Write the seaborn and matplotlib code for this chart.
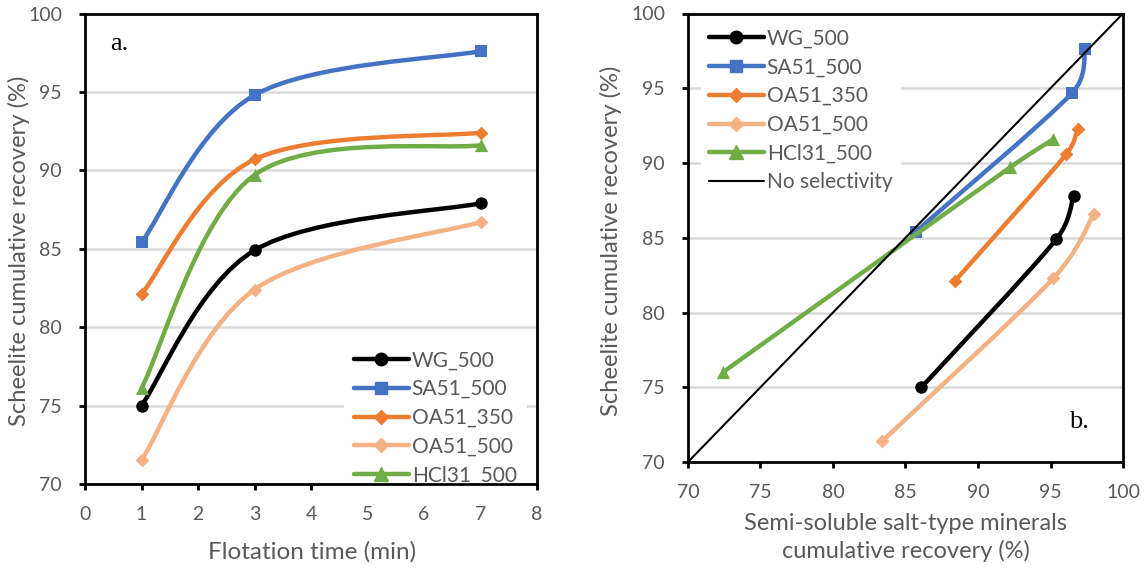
import numpy as np
import pandas as pd
import matplotlib
matplotlib.use("Agg")
import matplotlib.pyplot as plt
import seaborn as sns
from matplotlib.path import Path
from matplotlib.patches import PathPatch
from matplotlib.lines import Line2D

# ---------------- data ----------------
series_names = ["WG_500", "SA51_500", "OA51_350", "OA51_500", "HCl31_500"]
flotation_time = [1, 3, 7]
scheelite_recovery = {
    "WG_500":    [75.0, 84.9, 87.9],
    "SA51_500":  [85.4, 94.8, 97.6],
    "OA51_350":  [82.1, 90.7, 92.4],
    "OA51_500":  [71.5, 82.4, 86.7],
    "HCl31_500": [76.1, 89.7, 91.6],
}
# panel b: (semi-soluble salt-type recovery, scheelite recovery)
salt_recovery_b = {
    "WG_500":    [86.1, 95.4, 96.6],
    "SA51_500":  [85.7, 96.5, 97.4],
    "OA51_350":  [88.4, 96.1, 96.9],
    "OA51_500":  [83.4, 95.2, 98.0],
    "HCl31_500": [72.4, 92.2, 95.2],
}
scheelite_recovery_b = {
    "WG_500":    [75.0, 84.9, 87.8],
    "SA51_500":  [85.4, 94.7, 97.6],
    "OA51_350":  [82.1, 90.6, 92.3],
    "OA51_500":  [71.4, 82.3, 86.6],
    "HCl31_500": [76.0, 89.7, 91.6],
}
legend_labels = ["WG_500", "SA51_500", "OA51_350", "OA51_500", "HCl31_500"]
no_selectivity = [70, 100]
x_ticks_a = [0, 1, 2, 3, 4, 5, 6, 7, 8]
y_ticks = [70, 75, 80, 85, 90, 95, 100]
x_ticks_b = [70, 75, 80, 85, 90, 95, 100]

# ---------------- style ----------------
colors = {"WG_500": "#000000", "SA51_500": "#4472C4", "OA51_350": "#ED7D31",
          "OA51_500": "#F4B183", "HCl31_500": "#70AD47"}
markers = {"WG_500": "o", "SA51_500": "s", "OA51_350": "D", "OA51_500": "D",
           "HCl31_500": "^"}
msize = {"WG_500": 9, "SA51_500": 9, "OA51_350": 7, "OA51_500": 7, "HCl31_500": 9.5}
LW = 3.2

sns.set_theme(style="white")
plt.rcParams["font.family"] = ["Lato", "DejaVu Sans"]
TXT = "#595959"

fig = plt.figure(figsize=(11.48, 5.68), dpi=100)
ax_a = fig.add_axes([85 / 1148, 1 - 484 / 568, 452 / 1148, 470.5 / 568])
ax_b = fig.add_axes([688 / 1148, 1 - 462 / 568, 435 / 1148, 448.5 / 568])


def smooth_path(ax, xs, ys):
    """Excel-like smoothed line: cubic Bezier segments through the data points,
    control points computed in display space (tension 1/6, limited to half segment)."""
    pts = np.column_stack([xs, ys]).astype(float)
    d = ax.transData.transform(pts)
    inv = ax.transData.inverted()
    n = len(pts)
    verts = [pts[0]]
    codes = [Path.MOVETO]
    for i in range(n - 1):
        ip, inn = max(i - 1, 0), min(i + 2, n - 1)
        p0, p1 = d[i], d[i + 1]
        seg = np.linalg.norm(p1 - p0)
        t1 = d[i + 1] - d[ip]
        t2 = d[inn] - d[i]
        f1 = min(1 / 6, 0.5 * seg / np.linalg.norm(t1))
        f2 = min(1 / 6, 0.5 * seg / np.linalg.norm(t2))
        c1 = inv.transform(p0 + t1 * f1)
        c2 = inv.transform(p1 - t2 * f2)
        verts += [c1, c2, pts[i + 1]]
        codes += [Path.CURVE4] * 3
    return Path(verts, codes)


def style_axes(ax, xlim, ylim, xticks):
    ax.set_xlim(*xlim)
    ax.set_ylim(*ylim)
    ax.set_xticks(xticks)
    ax.set_yticks(y_ticks)
    for s in ax.spines.values():
        s.set_visible(True)
        s.set_color("black")
        s.set_linewidth(2.0)
        s.set_zorder(5)
    ax.tick_params(axis="both", direction="out", length=4, width=2.0,
                   color="black", labelcolor=TXT, labelsize=14.5,
                   bottom=True, left=True)
    ax.tick_params(axis="x", pad=11.5)
    ax.tick_params(axis="y", pad=12.5)
    for yv in y_ticks[1:-1]:
        ax.axhline(yv, color="#D9D9D9", lw=1.8, zorder=0.5)


def draw_series(ax, xdata, ydata):
    for i, name in enumerate(series_names):
        xs, ys = xdata[name], ydata[name]
        ax.add_patch(PathPatch(smooth_path(ax, xs, ys), facecolor="none",
                               edgecolor=colors[name], lw=LW, zorder=2 + i * 0.1,
                               capstyle="butt", joinstyle="round"))
        df = pd.DataFrame({"x": xs, "y": ys})
        sns.scatterplot(data=df, x="x", y="y", ax=ax, marker=markers[name],
                        color=colors[name], s=msize[name] ** 2, linewidth=0,
                        zorder=2.05 + i * 0.1, legend=False)


handles = [Line2D([], [], color=colors[n], lw=LW, marker=markers[n],
                  markersize=msize[n]) for n in series_names]

# ---------------- panel a ----------------
style_axes(ax_a, (0, 8), (70, 100), x_ticks_a)
draw_series(ax_a, {n: flotation_time for n in series_names}, scheelite_recovery)
ax_a.set_xlabel("Flotation time (min)", color=TXT, fontsize=16)
ax_a.set_ylabel("Scheelite cumulative recovery (%)", color=TXT, fontsize=16)
ax_a.xaxis.set_label_coords(0.502, -0.1445)
ax_a.yaxis.set_label_coords(-0.146, 0.495)
ax_a.text(0.055, 0.935, "a.", transform=ax_a.transAxes, fontsize=19,
          family="Liberation Serif", color="black", va="center", ha="left")

leg_a = ax_a.legend(handles, legend_labels, loc="lower right",
                    bbox_to_anchor=(0.978, -0.025),
                    frameon=True, facecolor="white", edgecolor="none", framealpha=1,
                    fontsize=15, handlelength=2.6, handletextpad=0.15,
                    labelspacing=0.42, borderpad=0.5, borderaxespad=0.0)
for t in leg_a.get_texts():
    t.set_color(TXT)
leg_a.set_zorder(1)

# ---------------- panel b ----------------
style_axes(ax_b, (70, 100), (70, 100), x_ticks_b)
draw_series(ax_b, salt_recovery_b, scheelite_recovery_b)
sns.lineplot(x=no_selectivity, y=no_selectivity, ax=ax_b, color="black", lw=1.5,
             zorder=3)
ax_b.set_xlabel("Semi-soluble salt-type minerals\ncumulative recovery (%)",
                color=TXT, fontsize=16, linespacing=1.35)
ax_b.set_ylabel("Scheelite cumulative recovery (%)", color=TXT, fontsize=16)
ax_b.xaxis.set_label_coords(0.501, -0.168)
ax_b.yaxis.set_label_coords(-0.177, 0.493)
ax_b.text(0.876, 0.089, "b.", transform=ax_b.transAxes, fontsize=19,
          family="Liberation Serif", color="black", va="center", ha="left")

handles_b = handles + [Line2D([], [], color="black", lw=1.5)]
labels_b = legend_labels + ["No selectivity"]
leg_b = ax_b.legend(handles_b, labels_b, loc="upper left",
                    bbox_to_anchor=(0.03, 0.985),
                    frameon=True, facecolor="white", edgecolor="none", framealpha=1,
                    fontsize=15, handlelength=2.6, handletextpad=0.15,
                    labelspacing=0.42, borderpad=0.4, borderaxespad=0.0)
for t in leg_b.get_texts():
    t.set_color(TXT)
leg_b.set_zorder(1)

for ax in (ax_a, ax_b):
    ax.xaxis.label.set_va("center")
    ax.yaxis.label.set_va("center")

# ---------------- fit text sizes to the reference extents ----------------
fig.canvas.draw()
r = fig.canvas.get_renderer()


def fit(text, target, dim):
    bb = text.get_window_extent(r)
    cur = bb.height if dim == "h" else bb.width
    return text.get_fontsize() * target / cur


ysz = fit(ax_a.yaxis.label, 352, "h")
for ax in (ax_a, ax_b):
    ax.yaxis.label.set_fontsize(ysz)
ax_a.xaxis.label.set_fontsize(fit(ax_a.xaxis.label, 208, "w"))
ax_b.xaxis.label.set_fontsize(fit(ax_b.xaxis.label, 325, "w"))
lab100 = [t for t in ax_a.get_yticklabels() if t.get_text() == "100"][0]
tsz = fit(lab100, 34, "w")
for ax in (ax_a, ax_b):
    ax.tick_params(labelsize=tsz)

fig.savefig("out.png", dpi=100)
